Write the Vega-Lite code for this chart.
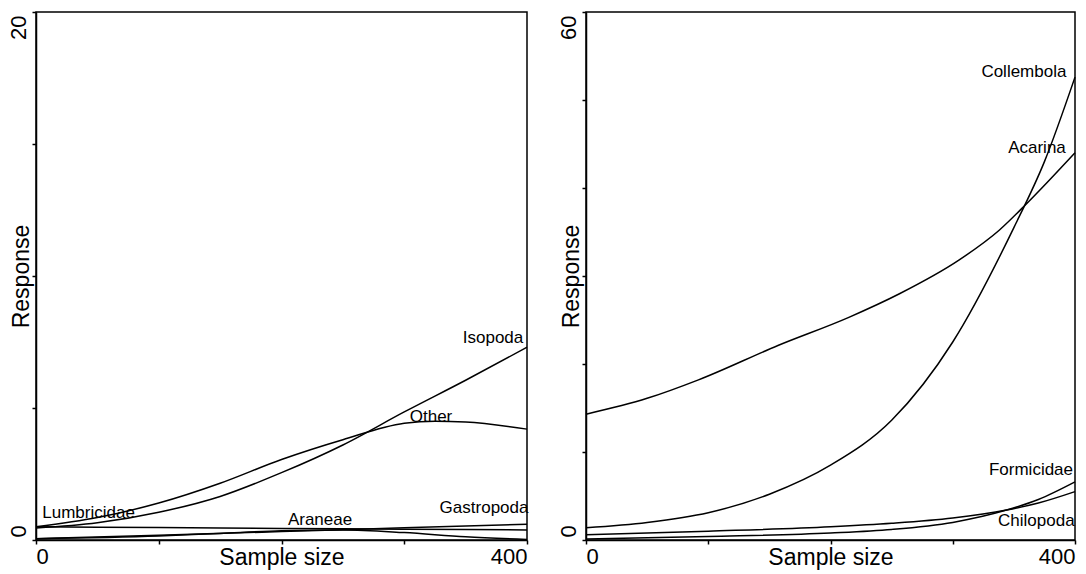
{
  "$schema": "https://vega.github.io/schema/vega-lite/v6.json",
  "padding": {"left": 6, "top": 10, "right": 5, "bottom": 2},
  "background": "white",
  "datasets": {
    "left": [
      {"taxon": "Isopoda", "n": 0, "value": 0.45},
      {"taxon": "Isopoda", "n": 50, "value": 0.65},
      {"taxon": "Isopoda", "n": 100, "value": 1.05},
      {"taxon": "Isopoda", "n": 150, "value": 1.65},
      {"taxon": "Isopoda", "n": 200, "value": 2.55},
      {"taxon": "Isopoda", "n": 250, "value": 3.6},
      {"taxon": "Isopoda", "n": 300, "value": 4.85},
      {"taxon": "Isopoda", "n": 350, "value": 6.05},
      {"taxon": "Isopoda", "n": 400, "value": 7.3},
      {"taxon": "Other", "n": 0, "value": 0.5},
      {"taxon": "Other", "n": 50, "value": 0.85},
      {"taxon": "Other", "n": 100, "value": 1.4},
      {"taxon": "Other", "n": 150, "value": 2.15},
      {"taxon": "Other", "n": 200, "value": 3.05},
      {"taxon": "Other", "n": 250, "value": 3.8},
      {"taxon": "Other", "n": 300, "value": 4.42},
      {"taxon": "Other", "n": 325, "value": 4.5},
      {"taxon": "Other", "n": 350, "value": 4.47},
      {"taxon": "Other", "n": 400, "value": 4.2},
      {"taxon": "Lumbricidae", "n": 0, "value": 0.5},
      {"taxon": "Lumbricidae", "n": 100, "value": 0.47},
      {"taxon": "Lumbricidae", "n": 200, "value": 0.44},
      {"taxon": "Lumbricidae", "n": 300, "value": 0.41},
      {"taxon": "Lumbricidae", "n": 400, "value": 0.38},
      {"taxon": "Gastropoda", "n": 0, "value": 0.05},
      {"taxon": "Gastropoda", "n": 100, "value": 0.18},
      {"taxon": "Gastropoda", "n": 200, "value": 0.32},
      {"taxon": "Gastropoda", "n": 300, "value": 0.46},
      {"taxon": "Gastropoda", "n": 400, "value": 0.6},
      {"taxon": "Araneae", "n": 0, "value": 0.05},
      {"taxon": "Araneae", "n": 100, "value": 0.15},
      {"taxon": "Araneae", "n": 150, "value": 0.25},
      {"taxon": "Araneae", "n": 200, "value": 0.35},
      {"taxon": "Araneae", "n": 250, "value": 0.38},
      {"taxon": "Araneae", "n": 300, "value": 0.28},
      {"taxon": "Araneae", "n": 350, "value": 0.12},
      {"taxon": "Araneae", "n": 400, "value": 0.02}
    ],
    "leftLabels": [
      {"taxon": "Isopoda", "n": 372.3, "value": 7.65},
      {"taxon": "Other", "n": 321.8, "value": 4.66},
      {"taxon": "Lumbricidae", "n": 42.8, "value": 1.02},
      {"taxon": "Araneae", "n": 231.4, "value": 0.76},
      {"taxon": "Gastropoda", "n": 365, "value": 1.21}
    ],
    "right": [
      {"taxon": "Acarina", "n": 0, "value": 14.3},
      {"taxon": "Acarina", "n": 50, "value": 16.1},
      {"taxon": "Acarina", "n": 92, "value": 18.2},
      {"taxon": "Acarina", "n": 157, "value": 22.1},
      {"taxon": "Acarina", "n": 215, "value": 25.3},
      {"taxon": "Acarina", "n": 256, "value": 27.95},
      {"taxon": "Acarina", "n": 305, "value": 31.8},
      {"taxon": "Acarina", "n": 338, "value": 35.2},
      {"taxon": "Acarina", "n": 361, "value": 38.3},
      {"taxon": "Acarina", "n": 400, "value": 44.0},
      {"taxon": "Collembola", "n": 0, "value": 1.4},
      {"taxon": "Collembola", "n": 50, "value": 2.0},
      {"taxon": "Collembola", "n": 100, "value": 3.1},
      {"taxon": "Collembola", "n": 150, "value": 5.2},
      {"taxon": "Collembola", "n": 200, "value": 8.5},
      {"taxon": "Collembola", "n": 250, "value": 13.6},
      {"taxon": "Collembola", "n": 300, "value": 22.5},
      {"taxon": "Collembola", "n": 350, "value": 35.5},
      {"taxon": "Collembola", "n": 375, "value": 43.0},
      {"taxon": "Collembola", "n": 400, "value": 52.6},
      {"taxon": "Formicidae", "n": 0, "value": 0.1},
      {"taxon": "Formicidae", "n": 100, "value": 0.4},
      {"taxon": "Formicidae", "n": 200, "value": 0.8},
      {"taxon": "Formicidae", "n": 250, "value": 1.2},
      {"taxon": "Formicidae", "n": 300, "value": 2.0},
      {"taxon": "Formicidae", "n": 344, "value": 3.4},
      {"taxon": "Formicidae", "n": 370, "value": 4.6},
      {"taxon": "Formicidae", "n": 400, "value": 6.6},
      {"taxon": "Chilopoda", "n": 0, "value": 0.6},
      {"taxon": "Chilopoda", "n": 100, "value": 1.0},
      {"taxon": "Chilopoda", "n": 200, "value": 1.5},
      {"taxon": "Chilopoda", "n": 250, "value": 1.9},
      {"taxon": "Chilopoda", "n": 300, "value": 2.5},
      {"taxon": "Chilopoda", "n": 344, "value": 3.4},
      {"taxon": "Chilopoda", "n": 370, "value": 4.2},
      {"taxon": "Chilopoda", "n": 400, "value": 5.5}
    ],
    "rightLabels": [
      {"taxon": "Collembola", "n": 358.2, "value": 53.2},
      {"taxon": "Acarina", "n": 368.9, "value": 44.5},
      {"taxon": "Formicidae", "n": 364, "value": 7.95},
      {"taxon": "Chilopoda", "n": 368.4, "value": 2.16}
    ]
  },
  "config": {
    "font": "Liberation Sans",
    "view": {"stroke": "black", "strokeWidth": 1.5},
    "axis": {
      "grid": false,
      "domainColor": "black",
      "domainWidth": 1.5,
      "tickColor": "black",
      "tickWidth": 1.5,
      "tickSize": 4,
      "labelPadding": 2,
      "labelFont": "Liberation Sans",
      "labelFontSize": 22,
      "labelColor": "black",
      "titleFont": "Liberation Sans",
      "titleFontSize": 23,
      "titleFontWeight": "normal",
      "titleColor": "black"
    },
    "text": {"font": "Liberation Sans", "fontSize": 17, "color": "black"}
  },
  "spacing": 25,
  "hconcat": [
    {
      "width": 491,
      "height": 528,
      "layer": [
        {
          "data": {"name": "left"},
          "mark": {"type": "line", "interpolate": "monotone", "color": "black", "strokeWidth": 1.5},
          "encoding": {
            "x": {"field": "n", "type": "quantitative", "scale": {"domain": [0, 400], "nice": false},
              "axis": {"title": "Sample size", "values": [0, 100, 200, 300, 400], "labelExpr": "datum.value == 0 || datum.value == 400 ? datum.label : ''", "labelFlush": true, "titlePadding": -21}},
            "y": {"field": "value", "type": "quantitative", "scale": {"domain": [0, 20], "nice": false},
              "axis": {"title": "Response", "values": [0, 5, 10, 15, 20], "labelExpr": "datum.value == 0 || datum.value == 20 ? datum.label : ''", "labelAngle": -90, "labelBaseline": "bottom",
                "labelAlign": {"condition": {"test": "datum.value == 0", "value": "left"}, "value": "right"},
                "labelOffset": {"condition": {"test": "datum.value == 0", "value": -3}, "value": 3},
                "titlePadding": -26}},
            "detail": {"field": "taxon"}
          }
        },
        {
          "data": {"name": "leftLabels"},
          "mark": {"type": "text", "align": "center", "baseline": "middle"},
          "encoding": {
            "x": {"field": "n", "type": "quantitative"},
            "y": {"field": "value", "type": "quantitative"},
            "text": {"field": "taxon"}
          }
        }
      ]
    },
    {
      "width": 489,
      "height": 528,
      "layer": [
        {
          "data": {"name": "right"},
          "mark": {"type": "line", "interpolate": "monotone", "color": "black", "strokeWidth": 1.5},
          "encoding": {
            "x": {"field": "n", "type": "quantitative", "scale": {"domain": [0, 400], "nice": false},
              "axis": {"title": "Sample size", "values": [0, 100, 200, 300, 400], "labelExpr": "datum.value == 0 || datum.value == 400 ? datum.label : ''", "labelFlush": true, "titlePadding": -21}},
            "y": {"field": "value", "type": "quantitative", "scale": {"domain": [0, 60], "nice": false},
              "axis": {"title": "Response", "values": [0, 10, 20, 30, 40, 50, 60], "labelExpr": "datum.value == 0 || datum.value == 60 ? datum.label : ''", "labelAngle": -90, "labelBaseline": "bottom",
                "labelAlign": {"condition": {"test": "datum.value == 0", "value": "left"}, "value": "right"},
                "labelOffset": {"condition": {"test": "datum.value == 0", "value": -3}, "value": 3},
                "titlePadding": -26}},
            "detail": {"field": "taxon"}
          }
        },
        {
          "data": {"name": "rightLabels"},
          "mark": {"type": "text", "align": "center", "baseline": "middle"},
          "encoding": {
            "x": {"field": "n", "type": "quantitative"},
            "y": {"field": "value", "type": "quantitative"},
            "text": {"field": "taxon"}
          }
        }
      ]
    }
  ]
}
